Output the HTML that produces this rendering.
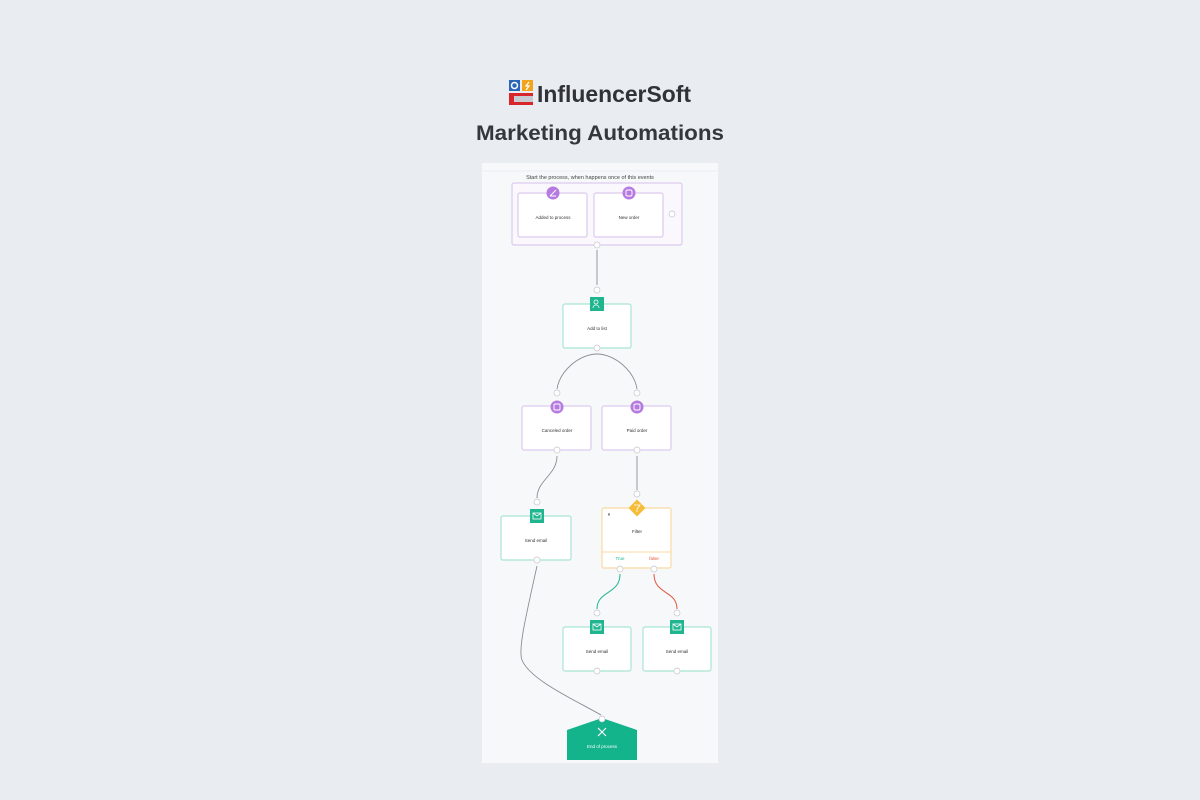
<!DOCTYPE html>
<html><head><meta charset="utf-8"><style>
html,body{margin:0;padding:0;background:#e9edf2;}
svg{display:block}
text{font-family:"Liberation Sans",sans-serif}
</style></head><body>
<svg width="1200" height="800" viewBox="0 0 1200 800" xmlns="http://www.w3.org/2000/svg">
<rect width="1200" height="800" fill="#e9edf2"/>
<!-- logo -->
<rect x="509" y="80" width="11" height="11" fill="#2a66b8"/>
<circle cx="514.5" cy="85.5" r="3" fill="none" stroke="#fff" stroke-width="1.5"/>
<rect x="522" y="80" width="11" height="11" fill="#f2a51c"/>
<path d="M529 82 L526 86 L529 86 L526 90" stroke="#fff" stroke-width="1.2" fill="none"/>
<rect x="509" y="93" width="24" height="12" fill="#d9262c"/>
<rect x="514" y="96" width="19" height="6" fill="#c8ccd2"/>
<text x="537" y="102" font-size="23" font-weight="bold" fill="#2f3237" textLength="154" lengthAdjust="spacingAndGlyphs">InfluencerSoft</text>
<text x="600" y="140" font-size="21" font-weight="bold" fill="#34373c" text-anchor="middle" textLength="248" lengthAdjust="spacingAndGlyphs">Marketing Automations</text>
<!-- panel -->
<rect x="482" y="163" width="236" height="600" fill="#f7f8fa"/>
<line x1="482" y1="171" x2="718" y2="171" stroke="#eceef1" stroke-width="1"/>
<text x="590" y="179" font-size="5.5" fill="#444" text-anchor="middle">Start the process, when happens once of this events</text>
<g fill="#fff" stroke-width="1.2">
<rect x="512" y="183" width="170" height="62" rx="2" fill="#faf7fd" stroke="#dccbf0"/>
<rect x="518" y="193" width="69" height="44" rx="2" stroke="#dccbf0"/>
<rect x="594" y="193" width="69" height="44" rx="2" stroke="#dccbf0"/>
<rect x="563" y="304" width="68" height="44" rx="2" stroke="#a9e5d4"/>
<rect x="522" y="406" width="69" height="44" rx="2" stroke="#dccbf0"/>
<rect x="602" y="406" width="69" height="44" rx="2" stroke="#dccbf0"/>
<rect x="501" y="516" width="70" height="44" rx="2" stroke="#a9e5d4"/>
<rect x="602" y="508" width="69" height="60" rx="2" stroke="#f8dba2"/>
<rect x="563" y="627" width="68" height="44" rx="2" stroke="#a9e5d4"/>
<rect x="643" y="627" width="68" height="44" rx="2" stroke="#a9e5d4"/>
</g>
<line x1="602" y1="552" x2="671" y2="552" stroke="#f8dba2" stroke-width="1"/>
<g font-size="4.5" fill="#333" text-anchor="middle">
<text x="553" y="219">Added to process</text>
<text x="629" y="219">New order</text>
<text x="597" y="330">Add to list</text>
<text x="557" y="432">Canceled order</text>
<text x="637" y="432">Paid order</text>
<text x="536" y="542">Send email</text>
<text x="637" y="533">Filter</text>
<text x="597" y="653">Send email</text>
<text x="677" y="653">Send email</text>
<text x="620" y="560" fill="#1fb58f">True</text>
<text x="654" y="560" fill="#e0553a">false</text>
<text x="609" y="516" font-weight="bold">×</text>
</g>
<!-- end -->
<polygon points="567,730 602,718 637,730 637,760 567,760" fill="#13b38b"/>
<path d="M598 728 L606 736 M606 728 L598 736" stroke="#fff" stroke-width="1.2"/>
<text x="602" y="748" font-size="4.5" fill="#fff" text-anchor="middle">End of process</text>
<!-- connectors -->
<g fill="none" stroke="#8a8d92" stroke-width="0.9">
<path d="M597 250 L597 285"/>
<path d="M597 354 C580 354 560 370 557 389"/>
<path d="M597 354 C614 354 634 370 637 389"/>
<path d="M557 456 C557 475 537 480 537 498"/>
<path d="M637 456 L637 490"/>
<path d="M537 566 C525 620 518 650 522 660 C530 680 575 700 601 715"/>
</g>
<path d="M620 574 C620 595 597 590 597 609" fill="none" stroke="#1fb58f" stroke-width="1"/>
<path d="M654 574 C654 595 677 590 677 609" fill="none" stroke="#e0553a" stroke-width="1"/>
<!-- small circles -->
<g fill="#fff" stroke="#c4c7cc" stroke-width="0.7">
<circle cx="672" cy="214" r="3"/><circle cx="597" cy="245" r="3"/><circle cx="597" cy="290" r="3"/>
<circle cx="597" cy="348" r="3"/><circle cx="557" cy="393" r="3"/><circle cx="637" cy="393" r="3"/>
<circle cx="557" cy="450" r="3"/><circle cx="637" cy="450" r="3"/><circle cx="537" cy="502" r="3"/>
<circle cx="637" cy="494" r="3"/><circle cx="537" cy="560" r="3"/><circle cx="620" cy="569" r="3"/>
<circle cx="654" cy="569" r="3"/><circle cx="597" cy="613" r="3"/><circle cx="677" cy="613" r="3"/>
<circle cx="597" cy="671" r="3"/><circle cx="677" cy="671" r="3"/><circle cx="602" cy="719" r="3"/>
</g>
<!-- icons -->
<g fill="#b67be0">
<circle cx="553" cy="193" r="6.5"/><circle cx="629" cy="193" r="6.5"/>
<circle cx="557" cy="407" r="6.5"/><circle cx="637" cy="407" r="6.5"/>
</g>
<g fill="none" stroke="#fff" stroke-width="0.9">
<rect x="626" y="190" width="6" height="6" rx="1.5"/><rect x="554" y="404" width="6" height="6" rx="1"/><rect x="634" y="404" width="6" height="6" rx="1.5"/>
<path d="M550 196 L556 190 M550 196 L556 196"/>
</g>
<g fill="#1fb58f">
<rect x="590" y="297" width="14" height="14"/>
<rect x="530" y="509" width="14" height="14"/>
<rect x="590" y="620" width="14" height="14"/>
<rect x="670" y="620" width="14" height="14"/>
</g>
<g fill="none" stroke="#fff" stroke-width="0.8">
<circle cx="596" cy="302" r="2"/><path d="M593 308 C593 304 599 304 599 308"/>
<rect x="533" y="513" width="8" height="6"/><path d="M533 513 L537 516 L541 513"/>
<rect x="593" y="624" width="8" height="6"/><path d="M593 624 L597 627 L601 624"/>
<rect x="673" y="624" width="8" height="6"/><path d="M673 624 L677 627 L681 624"/>
</g>
<rect x="631" y="502" width="12" height="12" fill="#f6bd3a" transform="rotate(45 637 508)"/>
<path d="M634 505 L640 505 L637 509 L637 512" fill="none" stroke="#fff" stroke-width="0.8"/>
</svg>
</body></html>
